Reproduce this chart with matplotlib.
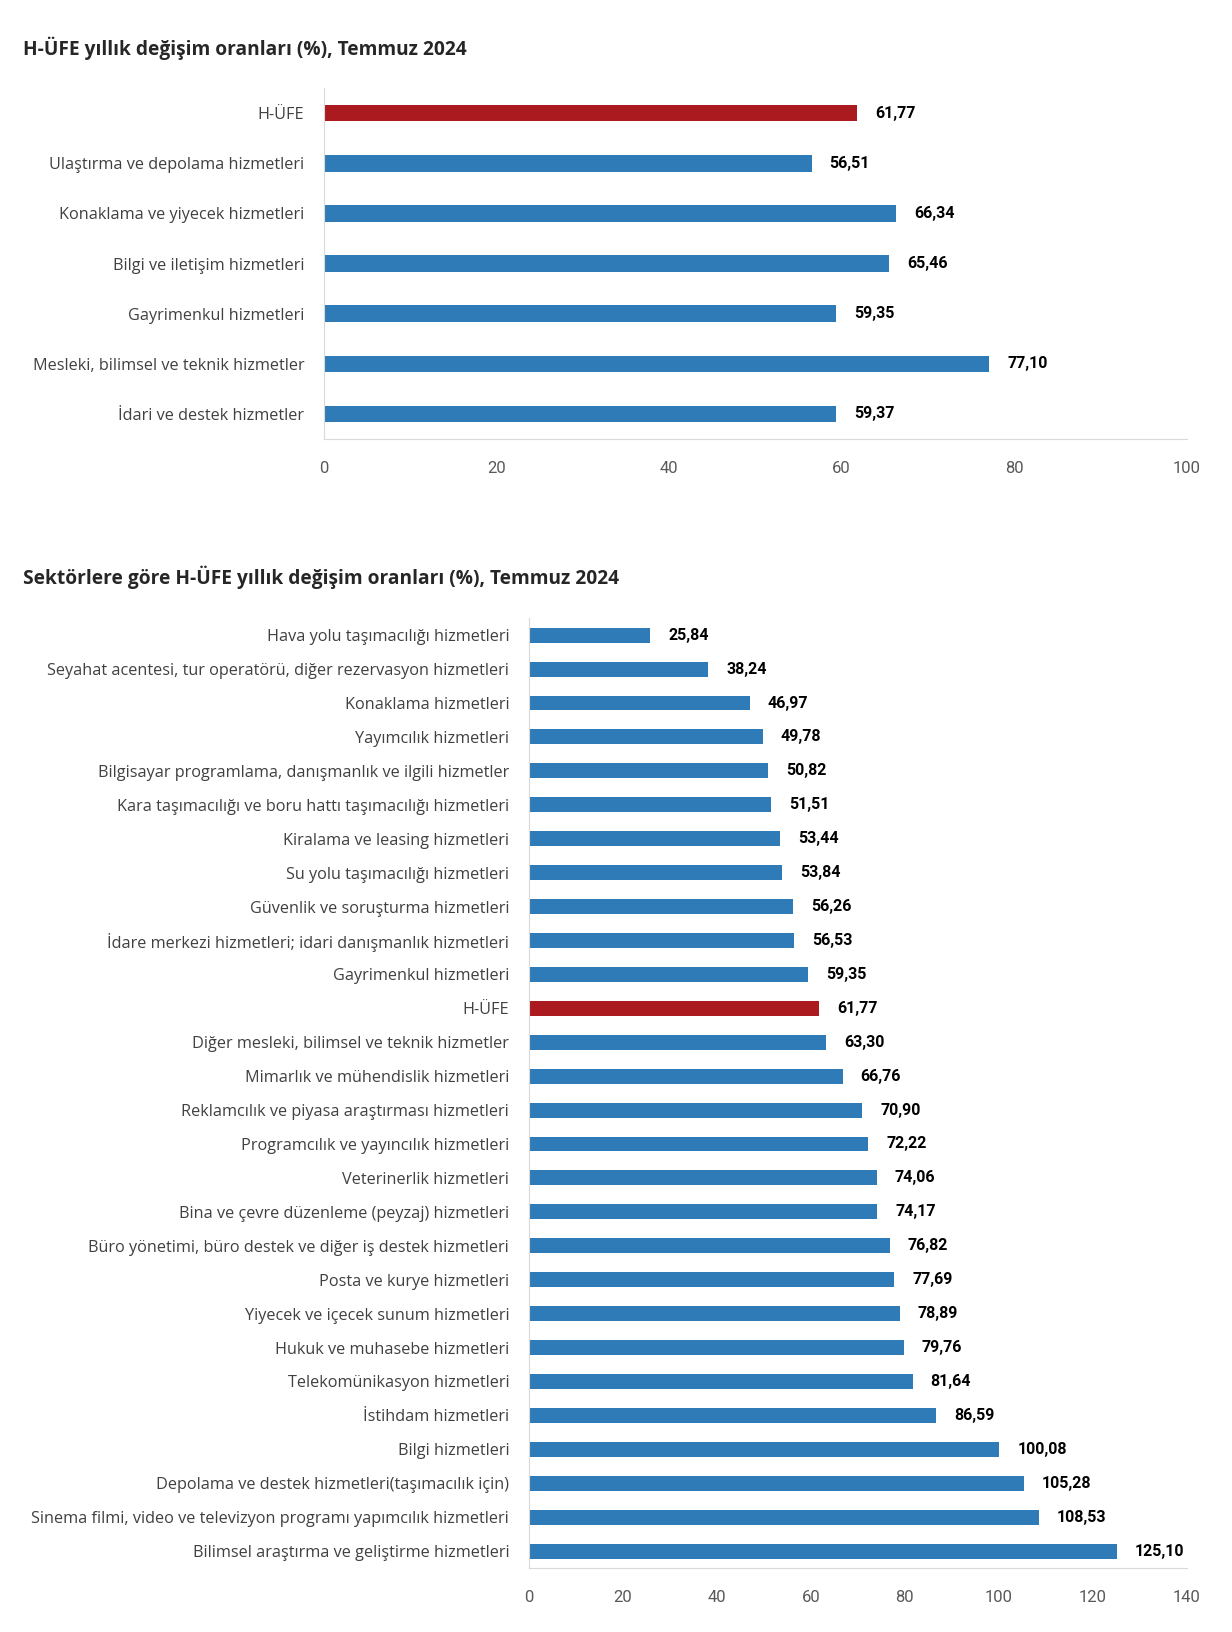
import matplotlib.pyplot as plt
from matplotlib import font_manager

# fonts
names = {f.name for f in font_manager.fontManager.ttflist}
narrow = "Liberation Sans Narrow" if "Liberation Sans Narrow" in names else "Roboto"
label_font = "Open Sans"

BLUE = "#2E7BB7"
RED = "#AB1A1E"
GRAY_SPINE = "#D9D9D9"
TEXT = "#404040"

# chart 1 data
main_cats = [
    "H-ÜFE",
    "Ulaştırma ve depolama hizmetleri",
    "Konaklama ve yiyecek hizmetleri",
    "Bilgi ve iletişim hizmetleri",
    "Gayrimenkul hizmetleri",
    "Mesleki, bilimsel ve teknik hizmetler",
    "İdari ve destek hizmetler",
]
main_vals = [61.77, 56.51, 66.34, 65.46, 59.35, 77.10, 59.37]

# chart 2 data
sector_cats = [
    "Hava yolu taşımacılığı hizmetleri",
    "Seyahat acentesi, tur operatörü, diğer rezervasyon hizmetleri",
    "Konaklama hizmetleri",
    "Yayımcılık hizmetleri",
    "Bilgisayar programlama, danışmanlık ve ilgili hizmetler",
    "Kara taşımacılığı ve boru hattı taşımacılığı hizmetleri",
    "Kiralama ve leasing hizmetleri",
    "Su yolu taşımacılığı hizmetleri",
    "Güvenlik ve soruşturma hizmetleri",
    "İdare merkezi hizmetleri; idari danışmanlık hizmetleri",
    "Gayrimenkul hizmetleri",
    "H-ÜFE",
    "Diğer mesleki, bilimsel ve teknik hizmetler",
    "Mimarlık ve mühendislik hizmetleri",
    "Reklamcılık ve piyasa araştırması hizmetleri",
    "Programcılık ve yayıncılık hizmetleri",
    "Veterinerlik hizmetleri",
    "Bina ve çevre düzenleme (peyzaj) hizmetleri",
    "Büro yönetimi, büro destek ve diğer iş destek hizmetleri",
    "Posta ve kurye hizmetleri",
    "Yiyecek ve içecek sunum hizmetleri",
    "Hukuk ve muhasebe hizmetleri",
    "Telekomünikasyon hizmetleri",
    "İstihdam hizmetleri",
    "Bilgi hizmetleri",
    "Depolama ve destek hizmetleri(taşımacılık için)",
    "Sinema filmi, video ve televizyon programı yapımcılık hizmetleri",
    "Bilimsel araştırma ve geliştirme hizmetleri",
]
sector_vals = [25.84, 38.24, 46.97, 49.78, 50.82, 51.51, 53.44, 53.84, 56.26, 56.53,
               59.35, 61.77, 63.30, 66.76, 70.90, 72.22, 74.06, 74.17, 76.82, 77.69,
               78.89, 79.76, 81.64, 86.59, 100.08, 105.28, 108.53, 125.10]


def fmt(v):
    return f"{v:.2f}".replace(".", ",")


def draw_bars(ax, cats, vals, xmax, step, height, offset):
    colors = [RED if c == "H-ÜFE" else BLUE for c in cats]
    y = list(range(len(cats)))
    ax.barh(y, vals, height=height, color=colors, zorder=2)
    ax.set_ylim(len(cats) - 0.5, -0.5)
    ax.set_xlim(0, xmax)
    ax.set_yticks(y)
    ax.set_yticklabels(cats, fontfamily=label_font, fontsize=11.7, color=TEXT)
    ax.set_xticks(range(0, xmax + 1, step))
    ax.tick_params(axis="y", length=0, pad=14)
    ax.tick_params(axis="x", length=0, pad=16)
    for t in ax.get_xticklabels():
        t.set_fontfamily(narrow)
        t.set_fontsize(12)
        t.set_color("#595959")
    for v, yy in zip(vals, y):
        ax.annotate(fmt(v), (v, yy), xytext=(offset, 0), textcoords="offset points",
                    va="center", ha="left", fontfamily=narrow, fontweight="bold",
                    fontsize=11.5, color="black")
    for s in ["top", "right"]:
        ax.spines[s].set_visible(False)
    ax.spines["left"].set_color(GRAY_SPINE)
    ax.spines["bottom"].set_color(GRAY_SPINE)


fig = plt.figure(figsize=(12.32, 16.32), dpi=100)

ax1 = fig.add_axes([0.2627, 0.731, 0.7008, 0.215])
draw_bars(ax1, main_cats, main_vals, 100, 20, 0.33, 13)

ax2 = fig.add_axes([0.4291, 0.0392, 0.5344, 0.582])
draw_bars(ax2, sector_cats, sector_vals, 140, 20, 0.44, 13)

fig.text(23 / 1232, 1 - 48 / 1632, "H-ÜFE yıllık değişim oranları (%), Temmuz 2024",
         fontfamily=label_font, fontweight="bold", fontsize=13.8, color="#262626",
         va="center", ha="left")
fig.text(23 / 1232, 1 - 577 / 1632,
         "Sektörlere göre H-ÜFE yıllık değişim oranları (%), Temmuz 2024",
         fontfamily=label_font, fontweight="bold", fontsize=13.8, color="#262626",
         va="center", ha="left")

plt.savefig("out.png", dpi=100, facecolor="white")
